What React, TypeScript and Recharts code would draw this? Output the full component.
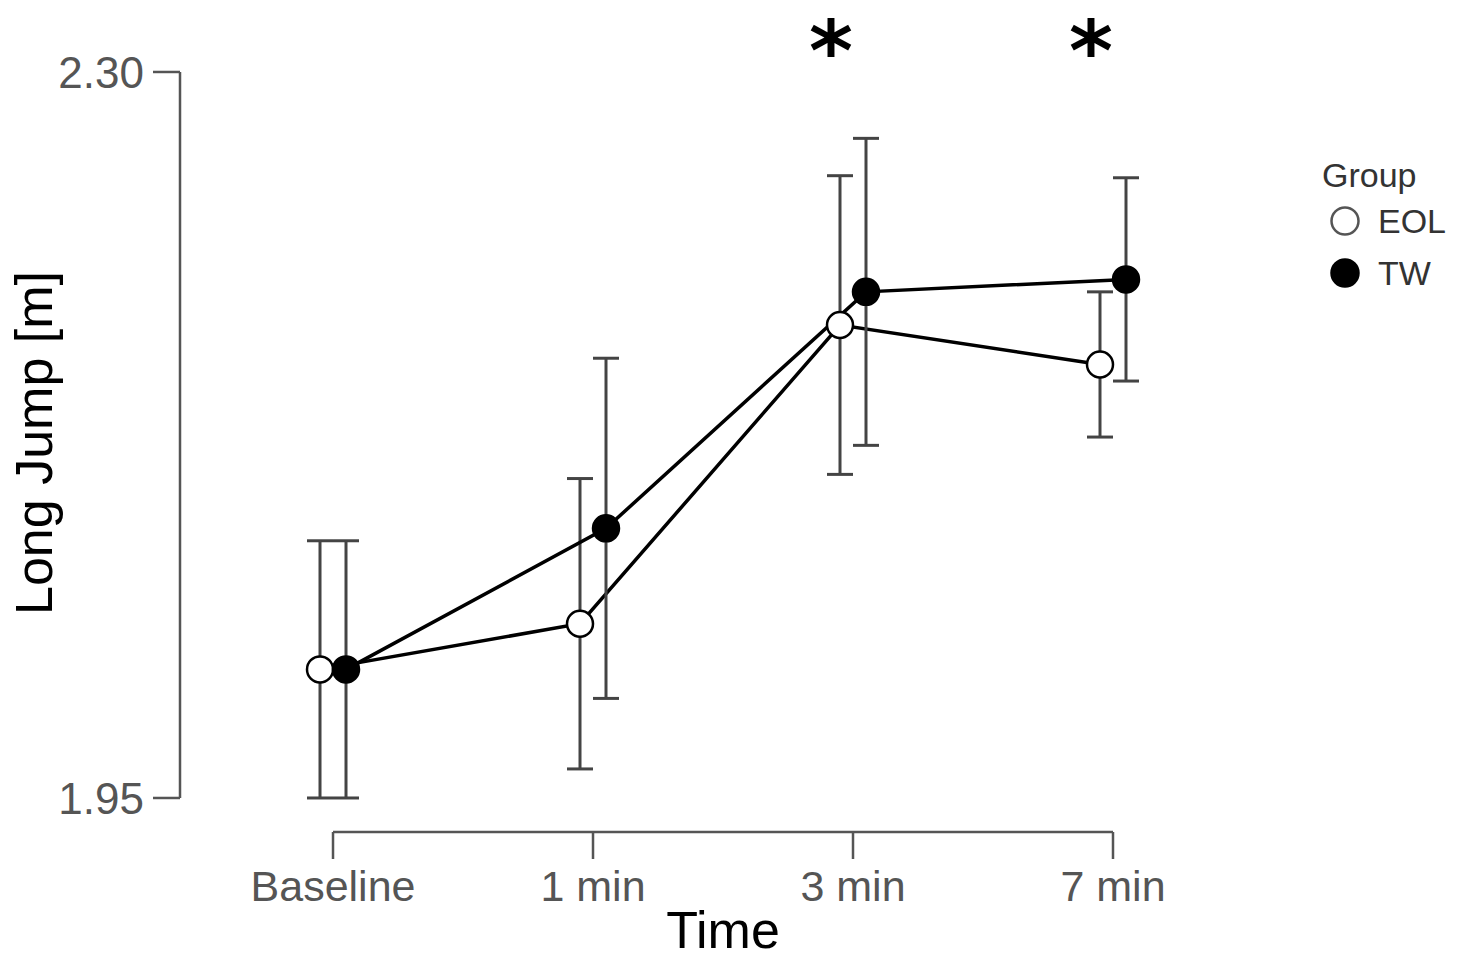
import React from "react";
import {
  ComposedChart,
  Line,
  XAxis,
  YAxis,
  ErrorBar,
  ReferenceLine,
  ReferenceDot,
  Legend,
} from "recharts";

const TIMES = ["Baseline", "1 min", "3 min", "7 min"];
const EOL_MEAN = [2.012, 2.034, 2.178, 2.159];
const EOL_SD = [0.062, 0.07, 0.072, 0.035];
const TW_MEAN = [2.012, 2.08, 2.194, 2.2];
const TW_SD = [0.062, 0.082, 0.074, 0.049];
const Y_TICKS = [1.95, 2.3];
const STARRED = [2, 3]; // time points marked significant

const FONT = '"Liberation Sans", Arial, Helvetica, sans-serif';
const AXIS_GREY = "#555";
const DODGE = 0.05;
const X_DOMAIN: [number, number] = [-0.5885, 3.2577];
const Y_DOMAIN: [number, number] = [1.9336, 2.3347];

const eolData = TIMES.map((_, i) => ({ x: i - DODGE, y: EOL_MEAN[i], sd: EOL_SD[i] }));
const twData = TIMES.map((_, i) => ({ x: i + DODGE, y: TW_MEAN[i], sd: TW_SD[i] }));

function AxisTitle({ px, py, rot, title }: { px: number; py: number; rot?: number; title: string }) {
  return (
    <text
      x={px}
      y={py}
      transform={rot ? `rotate(${rot} ${px} ${py})` : undefined}
      textAnchor="middle"
      dominantBaseline={rot ? "central" : "alphabetic"}
      fontSize={52}
      fill="#000"
      fontFamily={FONT}
    >
      {title}
    </text>
  );
}

function Star(props: any) {
  const { x, y } = props.viewBox || {};
  return (
    <text
      x={x}
      y={y + 47}
      textAnchor="middle"
      fontSize={84}
      fontWeight="bold"
      fill="#000"
      fontFamily='"DejaVu Sans", sans-serif'
    >
      *
    </text>
  );
}

function GroupLegend() {
  const items = [
    { name: "EOL", fill: "#fff", stroke: "#555" },
    { name: "TW", fill: "#000", stroke: "#000" },
  ];
  return (
    <div style={{ fontFamily: FONT, color: "#333" }}>
      <div style={{ fontSize: 34, lineHeight: "40px" }}>Group</div>
      {items.map((it) => (
        <div key={it.name} style={{ display: "flex", alignItems: "center", height: 52, paddingLeft: 6 }}>
          <svg width={34} height={34}>
            <circle cx={17} cy={17} r={13.5} fill={it.fill} stroke={it.stroke} strokeWidth={2.5} />
          </svg>
          <span style={{ marginLeft: 16, fontSize: 34 }}>{it.name}</span>
        </div>
      ))}
    </div>
  );
}

export default function App() {
  return (
    <div style={{ position: "absolute", left: 0, top: 0, background: "#fff" }}>
      <ComposedChart
        width={1460}
        height={960}
        margin={{ top: 0, right: 280, bottom: 0, left: 0 }}
        style={{ fontFamily: FONT }}
      >
        <XAxis
          type="number"
          dataKey="x"
          domain={X_DOMAIN}
          allowDataOverflow
          ticks={[0, 1, 2, 3]}
          interval={0}
          tickFormatter={(v: number) => TIMES[Math.round(v)]}
          axisLine={false}
          tickLine={{ stroke: AXIS_GREY, strokeWidth: 2.5 }}
          tickSize={27}
          tickMargin={11}
          tick={{ fontSize: 43, fill: AXIS_GREY }}
          height={128}
          label={<AxisTitle px={723} py={948} title="Time" />}
        />
        <YAxis
          type="number"
          domain={Y_DOMAIN}
          allowDataOverflow
          ticks={Y_TICKS}
          interval={0}
          tickFormatter={(v: number) => v.toFixed(2)}
          axisLine={false}
          tickLine={{ stroke: AXIS_GREY, strokeWidth: 2.5 }}
          tickSize={27}
          tickMargin={9}
          tick={{ fontSize: 44, fill: AXIS_GREY }}
          width={180}
          label={<AxisTitle px={34} py={443} rot={-90} title="Long Jump [m]" />}
        />

        {/* range-frame axis lines */}
        <ReferenceLine
          segment={[{ x: X_DOMAIN[0], y: Y_TICKS[0] }, { x: X_DOMAIN[0], y: Y_TICKS[1] }]}
          stroke={AXIS_GREY}
          strokeWidth={2.5}
          ifOverflow="visible"
        />
        <ReferenceLine
          segment={[{ x: 0, y: Y_DOMAIN[0] }, { x: TIMES.length - 1, y: Y_DOMAIN[0] }]}
          stroke={AXIS_GREY}
          strokeWidth={2.5}
          ifOverflow="visible"
        />

        <Line
          data={eolData}
          dataKey="y"
          name="EOL"
          type="linear"
          stroke="#000"
          strokeWidth={3.5}
          dot={{ r: 13, fill: "#fff", stroke: "#000", strokeWidth: 2.5 }}
          activeDot={false}
          isAnimationActive={false}
        >
          <ErrorBar dataKey="sd" width={13} stroke="#444" strokeWidth={3} />
        </Line>
        <Line
          data={twData}
          dataKey="y"
          name="TW"
          type="linear"
          stroke="#000"
          strokeWidth={3.5}
          dot={{ r: 13, fill: "#000", stroke: "#000", strokeWidth: 2.5 }}
          activeDot={false}
          isAnimationActive={false}
        >
          <ErrorBar dataKey="sd" width={13} stroke="#444" strokeWidth={3} />
        </Line>

        {STARRED.map((i) => (
          <ReferenceDot
            key={i}
            x={i - 0.085}
            y={2.3188}
            r={0}
            fill="none"
            stroke="none"
            label={<Star />}
          />
        ))}

        <Legend
          layout="horizontal"
          verticalAlign="middle"
          align="center"
          content={() => <GroupLegend />}
          wrapperStyle={{ left: 1322, top: 155, width: 138 }}
        />
      </ComposedChart>
    </div>
  );
}
